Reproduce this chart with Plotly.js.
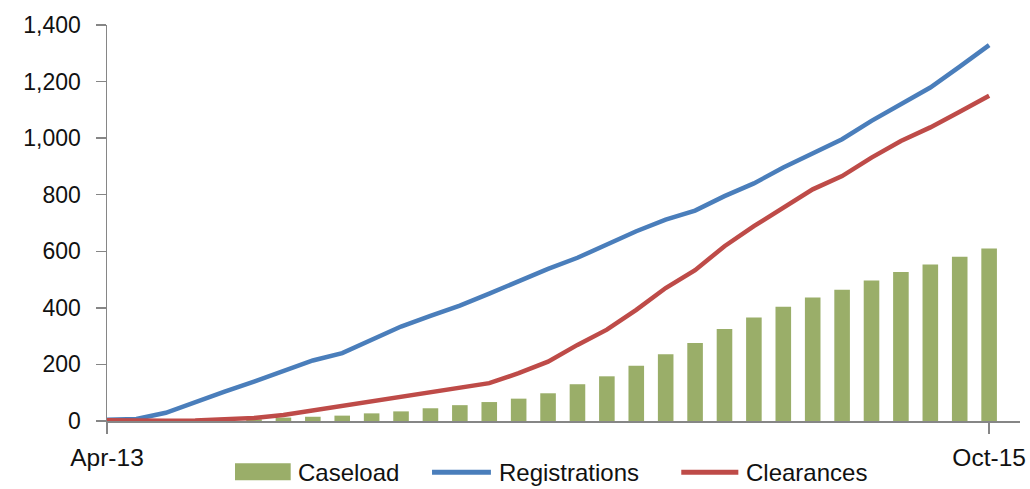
<!DOCTYPE html>
<html>
<head>
<meta charset="utf-8">
<script src="https://cdn.plot.ly/plotly-3.0.1.min.js"></script>
<style>html,body{margin:0;padding:0;background:#fff;}#chart{width:1030px;height:489px;}</style>
</head>
<body>
<div id="chart"></div>
<script>
const months = ["Apr-13","May-13","Jun-13","Jul-13","Aug-13","Sep-13","Oct-13","Nov-13","Dec-13",
  "Jan-14","Feb-14","Mar-14","Apr-14","May-14","Jun-14","Jul-14","Aug-14","Sep-14","Oct-14","Nov-14","Dec-14",
  "Jan-15","Feb-15","Mar-15","Apr-15","May-15","Jun-15","Jul-15","Aug-15","Sep-15","Oct-15"];
const caseload = [0,1,2,3,4,6,12,15,19,27,34,45,56,67,79,98,130,158,195,236,276,325,366,404,437,464,497,527,553,581,610];
const registrations = [4,7,29,68,104,139,178,214,240,287,334,372,408,450,494,538,577,626,671,712,744,795,840,896,946,996,1061,1120,1179,1253,1329];
const clearances = [3,1,1,2,5,11,21,37,51,68,84,99,115,134,169,210,269,323,393,470,533,618,689,754,819,866,931,990,1038,1093,1150];
const seriesNames = ["Caseload","Registrations","Clearances"];
const tickLabels = ["Apr-13","Oct-15"];
const colors = ["#9AAE69","#4A7EBB","#BE4B48"];

const traces = [
  {type:"bar", x:months, y:caseload, name:seriesNames[0], marker:{color:colors[0]}, hoverinfo:"x+y"},
  {type:"scatter", mode:"lines", x:months, y:registrations, name:seriesNames[1], line:{color:colors[1], width:4.5}},
  {type:"scatter", mode:"lines", x:months, y:clearances, name:seriesNames[2], line:{color:colors[2], width:4.5}}
];

const F = "Liberation Sans, Arial, sans-serif";
const legY = -0.1296;
const layout = {
  width:1030, height:489,
  margin:{l:107, r:10, t:25, b:68.3, pad:0},
  paper_bgcolor:"#fff", plot_bgcolor:"#fff",
  showlegend:false,
  bargap:0.47,
  font:{family:F, color:"#111"},
  xaxis:{type:"category", range:[0, 31.05], tickmode:"array", tickvals:tickLabels, ticktext:tickLabels,
    ticks:"outside", ticklen:11, tickwidth:1.5, tickcolor:"#868686", showline:true, linecolor:"#868686", linewidth:1.5,
    showgrid:false, zeroline:false, tickfont:{family:F, size:24.5, color:"#111"}, ticklabelstandoff:3, fixedrange:true},
  yaxis:{range:[0,1400], tickvals:[0,200,400,600,800,1000,1200,1400], tickformat:",",
    ticks:"outside", ticklen:10, tickwidth:1.5, tickcolor:"#868686", showline:true, linecolor:"#868686", linewidth:1.5,
    showgrid:false, zeroline:false, tickfont:{family:F, size:23, color:"#111"}, ticklabelstandoff:10, fixedrange:true},
  shapes:[
    {type:"rect", xref:"paper", yref:"paper", x0:0.1402, x1:0.2012, y0:-0.1499, y1:-0.1070, fillcolor:colors[0], line:{width:0}},
    {type:"line", xref:"paper", yref:"paper", x0:0.3560, x1:0.4205, y0:legY, y1:legY, line:{color:colors[1], width:5}},
    {type:"line", xref:"paper", yref:"paper", x0:0.6290, x1:0.6915, y0:legY, y1:legY, line:{color:colors[2], width:5}}
  ],
  annotations:[
    {xref:"paper", yref:"paper", x:0.2070, y:legY, xanchor:"left", yanchor:"middle", text:seriesNames[0], showarrow:false, font:{family:F, size:24, color:"#111"}},
    {xref:"paper", yref:"paper", x:0.4272, y:legY, xanchor:"left", yanchor:"middle", text:seriesNames[1], showarrow:false, font:{family:F, size:24, color:"#111"}},
    {xref:"paper", yref:"paper", x:0.6982, y:legY, xanchor:"left", yanchor:"middle", text:seriesNames[2], showarrow:false, font:{family:F, size:24, color:"#111"}}
  ]
};
Plotly.newPlot("chart", traces, layout, {displayModeBar:false, staticPlot:true});
</script>
</body>
</html>
